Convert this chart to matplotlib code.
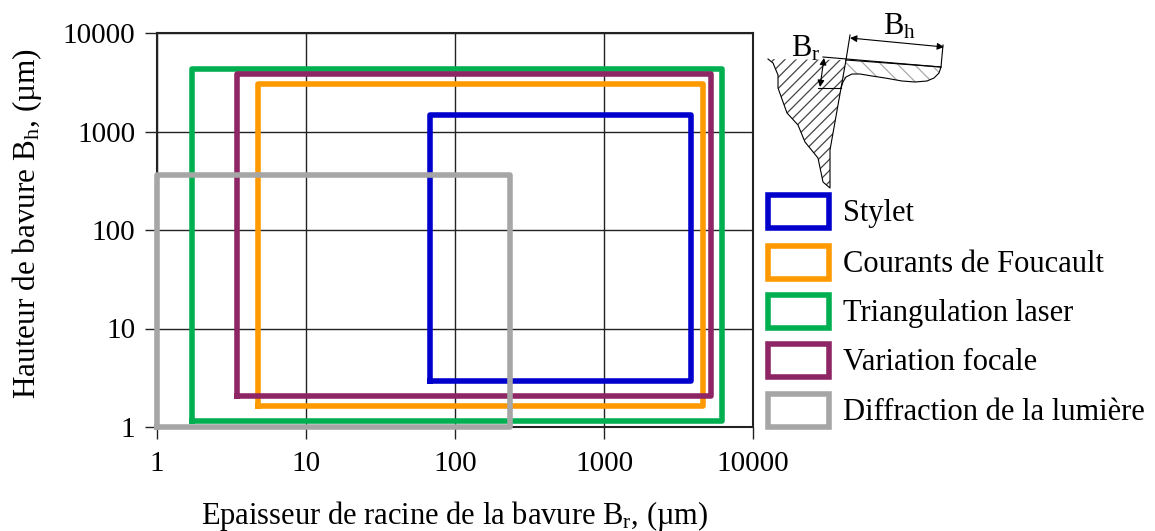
import matplotlib.pyplot as plt
from matplotlib.patches import Polygon, Rectangle

plt.rcParams['font.family'] = ['Liberation Serif', 'DejaVu Serif']
plt.rcParams['mathtext.fontset'] = 'custom'
plt.rcParams['mathtext.rm'] = 'Liberation Serif'
plt.rcParams['mathtext.default'] = 'rm'
plt.rcParams['hatch.linewidth'] = 0.9

labels = ['Stylet', 'Courants de Foucault', 'Triangulation laser', 'Variation focale', 'Diffraction de la lumière']
colors = ['#0000cc', '#ff9900', '#00b050', '#8e2564', '#a6a6a6']
x_min = [68, 4.76, 1.72, 3.44, 1]
x_max = [3840, 4620, 6190, 5230, 234]
y_min = [2.93, 1.63, 1.15, 2.06, 1]
y_max = [1470, 3035, 4310, 3840, 362]
ticks = [1, 10, 100, 1000, 10000]
tick_labels = ['1', '10', '100', '1000', '10000']

W, H = 1155, 531
fig = plt.figure(figsize=(W / 100, H / 100), dpi=100)

# axes placed on the pixel box of the reference
ax = fig.add_axes([157 / W, 1 - 427 / H, (753 - 157) / W, (427 - 33) / H])
ax.set_xscale('log')
ax.set_yscale('log')
ax.set_xlim(1, 10000)
ax.set_ylim(1, 10000)
ax.set_xticks(ticks)
ax.set_xticklabels(tick_labels)
ax.set_yticks(ticks)
ax.set_yticklabels(tick_labels)
ax.minorticks_off()
ax.tick_params(labelsize=21, length=8.5, width=1, pad=7, color='#222222')
ax.tick_params(axis='x', pad=8.5)
ax.grid(True, color='#222222', linewidth=1)
ax.set_axisbelow(True)
for s in ax.spines.values():
    s.set_linewidth(1.5)
    s.set_color('#222222')

for i in range(len(labels)):
    xs = [x_min[i], x_max[i], x_max[i], x_min[i], x_min[i]]
    ys = [y_min[i], y_min[i], y_max[i], y_max[i], y_min[i]]
    ax.plot(xs, ys, color=colors[i], linewidth=4, clip_on=False, solid_joinstyle='round', zorder=3 + i)

# overlay in pixels for labels, legend and the sketch
ov = fig.add_axes([0, 0, 1, 1], facecolor='none')
ov.set_xlim(0, W)
ov.set_ylim(H, 0)
ov.axis('off')

ov.text(455, 516, 'Epaisseur de racine de la bavure B$_{\\mathrm{r}}$, (µm)', fontsize=22, ha='center', va='center')
ov.text(27, 224, 'Hauteur de bavure B$_{\\mathrm{h}}$, (µm)', fontsize=22.5, ha='center', va='center', rotation=90)

# legend
leg_y = [211, 262, 311, 360, 410]
for i in range(len(labels)):
    ov.add_patch(Rectangle((768, leg_y[i] - 16), 61, 33, fill=False, edgecolor=colors[i], linewidth=4))
    ov.text(843, leg_y[i] + 3, labels[i], fontsize=22, ha='left', va='center')

# burr sketch
left_part = [(768, 59), (773, 63), (778, 75), (778, 88), (787, 113), (798, 125), (805, 142),
             (818, 158), (823, 182), (830, 188), (830, 150), (846, 60)]
right_part = [(846, 60), (941, 67), (939, 73), (934, 78), (927, 81), (915, 82), (902, 81), (885, 78),
              (872, 76), (860, 74), (852, 74), (846, 77), (843, 82), (841, 88)]
ov.add_patch(Polygon(left_part, closed=True, facecolor='none', edgecolor='#444444', hatch='///', linewidth=0))
ov.add_patch(Polygon(right_part, closed=True, facecolor='none', edgecolor='#aaaaaa', hatch='\\\\', linewidth=0))
ov.plot([p[0] for p in left_part], [p[1] for p in left_part], color='black', linewidth=0.8)
ov.plot([p[0] for p in right_part], [p[1] for p in right_part], color='black', linewidth=0.8)
ov.plot([823, 941], [57, 67], color='black', linewidth=0.8)
ov.plot([850, 846], [35, 60], color='black', linewidth=0.8)
ov.plot([943, 941], [45, 67], color='black', linewidth=0.8)
ov.plot([818, 841], [88, 88], color='black', linewidth=0.8)
ov.annotate('', xy=(850, 38), xytext=(944, 47), arrowprops=dict(arrowstyle='<|-|>', color='black', lw=0.8, shrinkA=0, shrinkB=0))
ov.annotate('', xy=(824, 58), xytext=(820, 87), arrowprops=dict(arrowstyle='<|-|>', color='black', lw=0.8, shrinkA=0, shrinkB=0))
ov.text(899, 27, 'B$_{\\mathrm{h}}$', fontsize=22, ha='center', va='center')
ov.text(806, 49, 'B$_{\\mathrm{r}}$', fontsize=22, ha='center', va='center')

fig.savefig('out.png', dpi=100)
